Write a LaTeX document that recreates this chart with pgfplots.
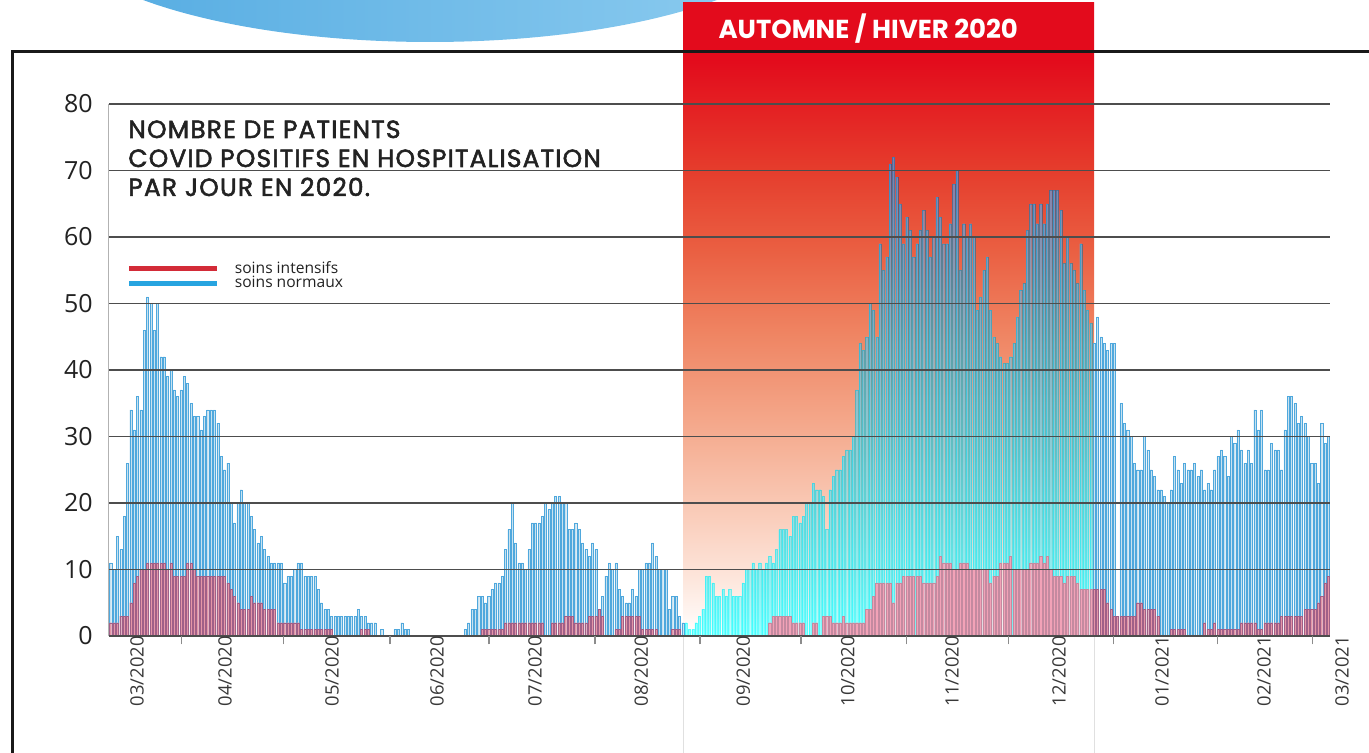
\documentclass[border=0pt]{standalone}
\usepackage{pgfplots}
\pgfplotsset{compat=1.18}
\usepackage{pgfplotstable}
\usepackage{fontspec}
\setmainfont{Open Sans}
\newfontfamily\titlefont{Poppins}[FakeBold=2.2, LetterSpace=5]
\newfontfamily\headfont{Poppins}

\definecolor{bs0}{HTML}{FFFFFF}
\definecolor{bs1}{HTML}{FDE6DC}
\definecolor{bs2}{HTML}{F9C8B4}
\definecolor{bs3}{HTML}{F4A78A}
\definecolor{bs4}{HTML}{EF8462}
\definecolor{bs5}{HTML}{EA5F42}
\definecolor{bs6}{HTML}{E53C2C}
\definecolor{bs7}{HTML}{E30B1C}
\definecolor{ellL}{HTML}{52AAE1}
\definecolor{ellR}{HTML}{8FCDF0}
\definecolor{gridc}{HTML}{4D4D4D}
\definecolor{bluefill}{HTML}{C8E2F0}
\definecolor{blueline}{HTML}{4FA8DD}
\definecolor{redfill}{HTML}{E596A6}
\definecolor{redline}{HTML}{A06088}
\definecolor{hlblue}{HTML}{4AAACB}
\definecolor{pinkband}{HTML}{F2A2B7}
\definecolor{pinkbandline}{HTML}{C48AA0}
\definecolor{legred}{HTML}{D32B38}
\definecolor{legblue}{HTML}{27A4E0}
\definecolor{txt}{HTML}{222222}

% TikZ maps the path onto 25bp..75bp of a named shading
\pgfdeclareverticalshading{bandshade}{100bp}{color(0bp)=(bs0); color(25bp)=(bs0); color(29.5bp)=(bs1); color(35.5bp)=(bs2); color(42bp)=(bs3); color(49bp)=(bs4); color(55.5bp)=(bs5); color(62bp)=(bs6); color(70.5bp)=(bs7); color(100bp)=(bs7)}

% d = day index (0 = 1 March 2020), n = soins normaux, r = soins intensifs
\pgfplotstableread[row sep=\\]{
d n r\\
0 11 2\\ 1 10 2\\ 2 15 2\\ 3 13 3\\ 4 18 3\\ 5 26 3\\ 6 34 5\\ 7 31 8\\ 8 36 9\\ 9 34 10\\
10 46 10\\ 11 51 11\\ 12 50 11\\ 13 46 11\\ 14 50 11\\ 15 42 11\\ 16 42 11\\ 17 39 10\\ 18 40 11\\ 19 37 9\\
20 36 9\\ 21 37 9\\ 22 39 9\\ 23 38 11\\ 24 35 11\\ 25 33 10\\ 26 33 9\\ 27 31 9\\ 28 33 9\\ 29 34 9\\
30 34 9\\ 31 34 9\\ 32 32 9\\ 33 27 9\\ 34 25 9\\ 35 26 8\\ 36 20 7\\ 37 17 6\\ 38 20 5\\ 39 22 4\\
40 20 4\\ 41 20 4\\ 42 18 6\\ 43 16 5\\ 44 14 5\\ 45 15 5\\ 46 13 4\\ 47 12 4\\ 48 11 4\\ 49 11 4\\
50 11 2\\ 51 11 2\\ 52 8 2\\ 53 9 2\\ 54 9 2\\ 55 10 2\\ 56 11 2\\ 57 11 1\\ 58 9 1\\ 59 9 1\\
60 9 1\\ 61 9 1\\ 62 7 1\\ 63 5 1\\ 64 4 1\\ 65 4 1\\ 66 3 1\\ 67 3 0\\ 68 3 0\\ 69 3 0\\
70 3 0\\ 71 3 0\\ 72 3 0\\ 73 3 0\\ 74 4 0\\ 75 3 1\\ 76 3 1\\ 77 2 1\\ 78 2 0\\ 79 2 0\\
80 0 0\\ 81 1 0\\ 82 0 0\\ 83 0 0\\ 84 0 0\\ 85 1 0\\ 86 1 0\\ 87 2 0\\ 88 1 0\\ 89 1 0\\
90 0 0\\ 91 0 0\\ 92 0 0\\ 93 0 0\\ 94 0 0\\ 95 0 0\\ 96 0 0\\ 97 0 0\\ 98 0 0\\ 99 0 0\\
100 0 0\\ 101 0 0\\ 102 0 0\\ 103 0 0\\ 104 0 0\\ 105 0 0\\ 106 1 0\\ 107 2 0\\ 108 4 0\\ 109 4 0\\
110 6 0\\ 111 6 1\\ 112 5 1\\ 113 6 1\\ 114 7 1\\ 115 8 1\\ 116 8 1\\ 117 9 1\\ 118 13 2\\ 119 16 2\\
120 20 2\\ 121 14 2\\ 122 11 2\\ 123 11 2\\ 124 10 2\\ 125 13 2\\ 126 17 2\\ 127 17 2\\ 128 17 2\\ 129 18 2\\
130 20 0\\ 131 19 0\\ 132 20 2\\ 133 21 2\\ 134 21 2\\ 135 20 2\\ 136 20 3\\ 137 16 3\\ 138 16 3\\ 139 17 2\\
140 16 2\\ 141 14 2\\ 142 13 2\\ 143 12 3\\ 144 14 3\\ 145 13 3\\ 146 4 4\\ 147 6 3\\ 148 9 0\\ 149 11 0\\
150 10 0\\ 151 11 1\\ 152 7 1\\ 153 6 3\\ 154 5 3\\ 155 5 3\\ 156 7 3\\ 157 6 3\\ 158 10 3\\ 159 10 1\\
160 11 1\\ 161 11 1\\ 162 14 1\\ 163 12 1\\ 164 10 0\\ 165 10 0\\ 166 10 0\\ 167 4 0\\ 168 6 1\\ 169 6 1\\
170 3 1\\ 171 2 0\\ 172 2 0\\ 173 1 0\\ 174 1 0\\ 175 2 0\\ 176 3 0\\ 177 4 0\\ 178 9 0\\ 179 9 0\\
180 8 0\\ 181 6 0\\ 182 6 0\\ 183 7 0\\ 184 6 0\\ 185 7 0\\ 186 6 0\\ 187 6 0\\ 188 6 0\\ 189 8 0\\
190 10 0\\ 191 10 0\\ 192 11 0\\ 193 10 0\\ 194 11 0\\ 195 10 0\\ 196 11 0\\ 197 12 2\\ 198 11 3\\ 199 13 3\\
200 16 3\\ 201 16 3\\ 202 16 3\\ 203 15 3\\ 204 18 2\\ 205 18 2\\ 206 17 2\\ 207 18 2\\ 208 20 0\\ 209 20 0\\
210 23 2\\ 211 22 2\\ 212 22 0\\ 213 21 3\\ 214 16 3\\ 215 22 3\\ 216 24 2\\ 217 25 2\\ 218 25 2\\ 219 27 3\\
220 28 2\\ 221 28 2\\ 222 30 2\\ 223 37 2\\ 224 44 2\\ 225 43 2\\ 226 45 4\\ 227 50 4\\ 228 49 6\\ 229 45 8\\
230 59 8\\ 231 55 8\\ 232 57 8\\ 233 71 8\\ 234 72 5\\ 235 69 8\\ 236 65 8\\ 237 59 9\\ 238 63 9\\ 239 61 9\\
240 57 9\\ 241 59 9\\ 242 61 9\\ 243 64 8\\ 244 61 8\\ 245 57 8\\ 246 60 8\\ 247 66 9\\ 248 63 12\\ 249 59 11\\
250 59 11\\ 251 62 11\\ 252 68 10\\ 253 70 10\\ 254 55 11\\ 255 62 11\\ 256 60 11\\ 257 62 10\\ 258 60 10\\ 259 49 10\\
260 51 10\\ 261 55 10\\ 262 57 10\\ 263 49 8\\ 264 45 9\\ 265 44 9\\ 266 42 11\\ 267 41 11\\ 268 41 11\\ 269 42 12\\
270 44 10\\ 271 48 10\\ 272 52 10\\ 273 53 10\\ 274 61 10\\ 275 65 11\\ 276 65 11\\ 277 62 11\\ 278 65 12\\ 279 62 11\\
280 65 12\\ 281 67 10\\ 282 67 9\\ 283 67 9\\ 284 64 9\\ 285 56 8\\ 286 60 9\\ 287 56 9\\ 288 55 9\\ 289 53 8\\
290 59 7\\ 291 52 7\\ 292 49 7\\ 293 47 7\\ 294 44 7\\ 295 48 7\\ 296 45 7\\ 297 44 7\\ 298 43 5\\ 299 44 4\\
300 44 3\\ 301 0 3\\ 302 35 3\\ 303 32 3\\ 304 31 3\\ 305 30 3\\ 306 26 3\\ 307 25 5\\ 308 25 5\\ 309 30 4\\
310 28 4\\ 311 25 4\\ 312 24 4\\ 313 22 3\\ 314 22 0\\ 315 21 0\\ 316 20 0\\ 317 22 1\\ 318 27 1\\ 319 25 1\\
320 23 1\\ 321 26 1\\ 322 25 0\\ 323 25 0\\ 324 26 0\\ 325 24 0\\ 326 25 0\\ 327 22 2\\ 328 23 1\\ 329 22 1\\
330 25 2\\ 331 27 1\\ 332 28 1\\ 333 27 1\\ 334 24 1\\ 335 30 1\\ 336 29 1\\ 337 31 1\\ 338 28 2\\ 339 26 2\\
340 28 2\\ 341 26 2\\ 342 34 2\\ 343 31 1\\ 344 34 1\\ 345 25 2\\ 346 25 2\\ 347 29 2\\ 348 28 2\\ 349 28 2\\
350 25 3\\ 351 31 3\\ 352 36 3\\ 353 36 3\\ 354 35 3\\ 355 32 3\\ 356 33 3\\ 357 32 4\\ 358 30 4\\ 359 26 4\\
360 26 4\\ 361 23 5\\ 362 32 6\\ 363 29 8\\ 364 30 9\\
}\data

\newcommand\tkm{\textcolor{black!45}{\rule{4pt}{0.6pt}}}

\begin{document}
\begin{tikzpicture}
\useasboundingbox (0pt,0pt) rectangle (684.5pt,376.5pt);
\shade[left color=ellL, right color=ellR] (215pt,416.5pt) ellipse [x radius=190pt, y radius=61pt];
\begin{axis}[
  at={(54.5pt,58.5pt)}, anchor=south west,
  scale only axis, width=610.5pt, height=266pt,
  xmin=0, xmax=365, ymin=0, ymax=80,
  clip=false, axis on top,
  axis x line*=bottom, axis y line*=left,
  x axis line style={gridc, line width=0.75pt, -},
  y axis line style={black!30, line width=0.5pt, -},
  ymajorgrids, grid style={gridc, line width=0.75pt},
  major tick length=0pt,
  ytick={0,10,...,80},
  /pgf/number format/assume math mode=true,
  yticklabel style={font=\fontsize{12.5}{13}\selectfont, text=txt, anchor=east, inner sep=0pt, xshift=-8pt},
  xtick={3.6,29.9,61.9,93.3,122.6,154.3,184.8,216.1,247.2,279.2,310.0,340.5,363.8},
  xticklabels={03/2020,04/2020,05/2020,06/2020,07/2020,08/2020,09/2020,10/2020,11/2020,12/2020,01/2021,02/2021,03/2021},
  xticklabel style={font=\fontsize{9.2}{10}\selectfont, text=txt!90, rotate=90, anchor=east, inner sep=0pt, yshift=-8pt},
  extra x ticks={16.4,46.9,78.6,108.2,139.9,171.3,201.5,232.9,263.4,294.8,325.9,354.3},
  extra x tick labels={\tkm,\tkm,\tkm,\tkm,\tkm,\tkm,\tkm,\tkm,\tkm,\tkm,\tkm,\tkm},
  extra x tick style={grid=none, xticklabel style={yshift=-1pt}},
  legend image code/.code={\draw[#1, line width=2.6pt] (0pt,0pt) -- (44pt,0pt);},
  legend style={at={(axis cs:5.1,56.6)}, anchor=north west, draw=none, fill=none, inner sep=0pt,
    font=\fontsize{7.8}{8.5}\selectfont, text=txt, row sep=-1pt,
    nodes={inner sep=0.6pt},
    /tikz/every odd column/.append style={column sep=7pt}},
  legend cell align=left,
]
\shade[shading=bandshade] (axis cs:171.6,0) rectangle (axis cs:294.5,95.2);
\draw[black!12, line width=0.5pt] (axis cs:171.6,0) -- (axis cs:171.6,-17.6);
\draw[black!12, line width=0.5pt] (axis cs:294.5,0) -- (axis cs:294.5,-17.6);

% soins normaux
\addplot[ybar, bar shift=0pt, bar width=0.62, fill=bluefill, draw=blueline, line width=0.16pt, restrict x to domain=0:172, forget plot] table[x expr=\thisrow{d}+0.5, y=n]{\data};
\addplot[ybar, bar shift=0pt, bar width=0.62, fill=bluefill, draw=blueline, line width=0.16pt, restrict x to domain=294:366, forget plot] table[x expr=\thisrow{d}+0.5, y=n]{\data};
\addplot[ybar, bar shift=0pt, bar width=0.66, fill=hlblue, draw=hlblue!80!black, line width=0.12pt, blend mode=hard light, restrict x to domain=172:294, forget plot] table[x expr=\thisrow{d}+0.5, y=n]{\data};
% soins intensifs
\addplot[ybar, bar shift=0pt, bar width=0.62, fill=redfill, draw=redline, line width=0.16pt, restrict x to domain=0:172, forget plot] table[x expr=\thisrow{d}+0.5, y=r]{\data};
\addplot[ybar, bar shift=0pt, bar width=0.62, fill=redfill, draw=redline, line width=0.16pt, restrict x to domain=294:366, forget plot] table[x expr=\thisrow{d}+0.5, y=r]{\data};
\addplot[ybar, bar shift=0pt, bar width=0.66, fill=pinkband, draw=pinkbandline, line width=0.16pt, restrict x to domain=172:294, forget plot] table[x expr=\thisrow{d}+0.5, y=r]{\data};

\addlegendimage{color=legred}
\addlegendentry{soins intensifs}
\addlegendimage{color=legblue}
\addlegendentry{soins normaux}

\node[anchor=base west, inner sep=0pt, text=txt, font=\titlefont\fontsize{12.4}{14}\selectfont] at (axis cs:5.68,74.89) {NOMBRE DE PATIENTS};
\node[anchor=base west, inner sep=0pt, text=txt, font=\titlefont\fontsize{12.4}{14}\selectfont] at (axis cs:5.68,70.53) {COVID POSITIFS EN HOSPITALISATION};
\node[anchor=base west, inner sep=0pt, text=txt, font=\titlefont\fontsize{12.4}{14}\selectfont] at (axis cs:5.68,66.17) {PAR JOUR EN 2020.};
\node[anchor=base west, inner sep=0pt, text=white, font=\headfont\bfseries\fontsize{13}{15}\selectfont] at (axis cs:182.1,89.85) {AUTOMNE / HIVER 2020};
\end{axis}
\draw[line width=1.5pt, color=black!90] (6pt,-2pt) -- (6pt,350.5pt) -- (690pt,350.5pt);
\end{tikzpicture}
\end{document}
